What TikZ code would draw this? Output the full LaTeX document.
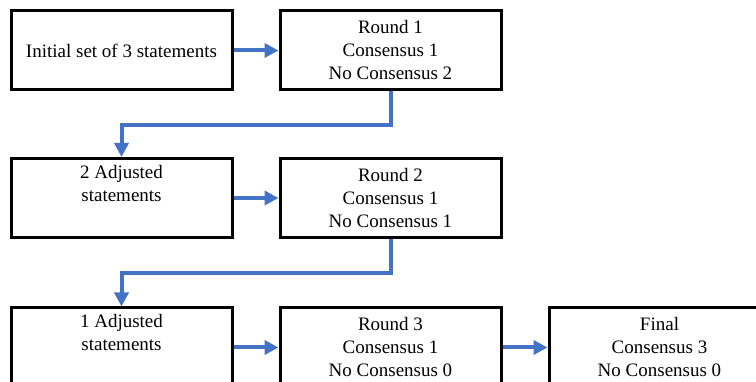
\documentclass[tikz,border=0pt]{standalone}
\usepackage{fontspec}
\setmainfont{Liberation Serif}
\usetikzlibrary{arrows.meta}
\definecolor{flowblue}{HTML}{4472C4}
\tikzset{
  stagebox/.style={draw=black, line width=3pt, fill=white, minimum width=221pt,
    minimum height=79pt, align=center, inner sep=0pt,
    font=\fontsize{19}{23}\selectfont},
  flow/.style={draw=flowblue, line width=4pt,
    -{Triangle[length=14pt,width=14pt]}}
}
\begin{document}
\begin{tikzpicture}[x=1pt,y=-1pt]
  \useasboundingbox (0,0) rectangle (756,382);
  %top row
  \node[stagebox] (init) at (121.5,50.5) {Initial set of 3 statements};
  \node[stagebox] (rnd1) at (390.5,50.5) {Round 1\\Consensus 1\\No Consensus 2};
  %middle row
  \node[stagebox] (adj2) at (121.5,198) {2 Adjusted\\statements\\\strut};
  \node[stagebox] (rnd2) at (390.5,198) {Round 2\\Consensus 1\\No Consensus 1};
  %bottom row, cut at the lower edge
  \node[stagebox] (adj1) at (121.5,347.5) {1 Adjusted\\statements\\\strut};
  \node[stagebox] (rnd3) at (390.5,347.5) {Round 3\\Consensus 1\\No Consensus 0};
  \node[stagebox] (final) at (659.5,347.5) {Final\\Consensus 3\\No Consensus 0};
  %arrows
  \draw[flow] (init) -- (rnd1);
  \draw[flow] (adj2) -- (rnd2);
  \draw[flow] (adj1) -- (rnd3);
  \draw[flow] (rnd3) -- (final);
  \draw[flow] (rnd1.south) -- ++(0,34) -| (adj2.north);
  \draw[flow] (rnd2.south) -- ++(0,34) -| (adj1.north);
\end{tikzpicture}
\end{document}
